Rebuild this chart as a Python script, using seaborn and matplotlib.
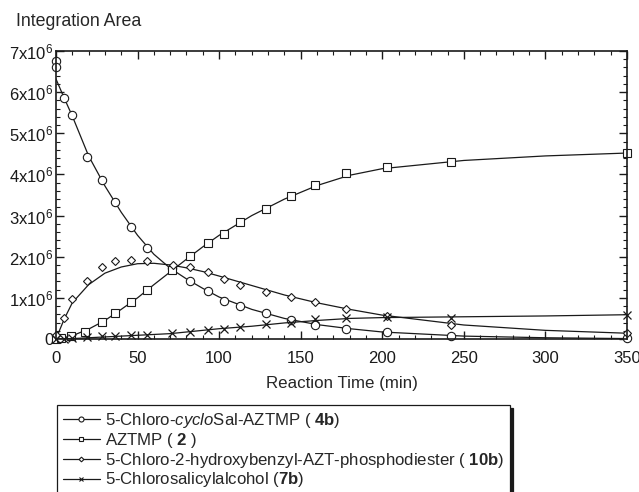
import matplotlib
matplotlib.use('Agg')
import matplotlib.pyplot as plt
from matplotlib.lines import Line2D
from matplotlib.ticker import MultipleLocator, FixedLocator, FixedFormatter
import seaborn as sns
import pandas as pd

# measured points (y in units of 1e6)
circ_t = [0, 0, 5, 10, 19, 28, 36, 46, 56, 71, 82, 93, 103, 113, 129, 144, 159, 178, 203, 242, 350]
circ_y = [6.75, 6.62, 5.87, 5.44, 4.43, 3.87, 3.34, 2.72, 2.20, 1.72, 1.41, 1.17, 0.92, 0.79, 0.63, 0.46, 0.35, 0.25, 0.16, 0.08, 0.02]

sq_t = [0, 3, 9, 18, 28, 36, 46, 56, 71, 82, 93, 103, 113, 129, 144, 159, 178, 203, 242, 350]
sq_y = [0.0, 0.02, 0.08, 0.18, 0.41, 0.63, 0.91, 1.19, 1.67, 2.02, 2.33, 2.54, 2.84, 3.17, 3.47, 3.74, 4.03, 4.18, 4.31, 4.53]

dia_t = [0, 5, 10, 19, 28, 36, 46, 56, 72, 82, 93, 103, 113, 129, 144, 159, 178, 203, 242, 350]
dia_y = [0.1, 0.52, 0.97, 1.41, 1.74, 1.89, 1.93, 1.89, 1.80, 1.75, 1.64, 1.46, 1.31, 1.15, 1.01, 0.89, 0.74, 0.55, 0.34, 0.14]

cross_t = [0, 5, 10, 19, 28, 36, 46, 56, 71, 82, 93, 103, 113, 129, 144, 159, 178, 203, 242, 350]
cross_y = [0.0, 0.01, 0.03, 0.04, 0.07, 0.08, 0.10, 0.10, 0.14, 0.17, 0.23, 0.25, 0.29, 0.36, 0.38, 0.48, 0.52, 0.53, 0.52, 0.59]

# fitted curves
fit_t = [0, 5, 10, 20, 30, 40, 50, 60, 70, 80, 90, 100, 120, 140, 160, 180, 200, 250, 300, 350]
circ_fit = [6.32, 5.86, 5.42, 4.45, 3.72, 3.08, 2.52, 2.06, 1.72, 1.46, 1.23, 1.02, 0.72, 0.50, 0.35, 0.25, 0.17, 0.07, 0.03, 0.01]
sq_fit = [0, 0.03, 0.08, 0.24, 0.45, 0.72, 1.00, 1.32, 1.63, 1.94, 2.24, 2.52, 3.00, 3.40, 3.73, 3.98, 4.14, 4.34, 4.45, 4.52]
dia_fit = [0, 0.48, 0.88, 1.32, 1.60, 1.75, 1.83, 1.84, 1.80, 1.73, 1.64, 1.53, 1.30, 1.07, 0.88, 0.72, 0.58, 0.34, 0.21, 0.14]
cross_fit = [0, 0.005, 0.01, 0.03, 0.05, 0.07, 0.09, 0.11, 0.13, 0.17, 0.21, 0.25, 0.31, 0.39, 0.45, 0.50, 0.52, 0.54, 0.56, 0.59]

y_ticks = [0, 1, 2, 3, 4, 5, 6, 7]
y_labels = ['0', '1x10$^6$', '2x10$^6$', '3x10$^6$', '4x10$^6$', '5x10$^6$', '6x10$^6$', '7x10$^6$']

labels = [
    r'5-Chloro-$\it{cyclo}$Sal-AZTMP ( $\bf{4b}$)',
    r'AZTMP ( $\bf{2}$ )',
    r'5-Chloro-2-hydroxybenzyl-AZT-phosphodiester ( $\bf{10b}$)',
    r'5-Chlorosalicylalcohol ($\bf{7b}$)',
]

sns.set_theme(style='ticks')
plt.rcParams['font.family'] = ['Liberation Sans', 'DejaVu Sans']
plt.rcParams['mathtext.fontset'] = 'custom'
plt.rcParams['mathtext.rm'] = 'Liberation Sans'
plt.rcParams['mathtext.it'] = 'Liberation Sans:italic'
plt.rcParams['mathtext.bf'] = 'Liberation Sans:bold'
plt.rcParams['mathtext.default'] = 'regular'

fig = plt.figure(figsize=(6.39, 4.92), dpi=100)
ax = fig.add_axes([0.0876, 0.311, 0.8936, 0.5853])

series = [
    (circ_t, circ_y, circ_fit, 'o', 6.0),
    (sq_t, sq_y, sq_fit, 's', 5.2),
    (dia_t, dia_y, dia_fit, 'D', 4.0),
    (cross_t, cross_y, cross_fit, 'x', 6.0),
]

handles = []
for (t, y, fit, mk, ms), lab in zip(series, labels):
    sns.lineplot(x=fit_t, y=fit, color='k', linewidth=0.9, ax=ax)
    pts = pd.DataFrame({'t': t, 'y': y})
    if mk == 'x':
        ax.plot(pts['t'], pts['y'], linestyle='none', marker='x', ms=ms, mew=0.9, color='k', clip_on=False)
    else:
        ax.plot(pts['t'], pts['y'], linestyle='none', marker=mk, ms=ms, mew=0.8,
                mfc='white', mec='k', clip_on=False)
    handles.append(Line2D([], [], color='k', lw=0.9, marker=mk, ms=ms * 0.6,
                          mfc='white', mec='k', mew=0.8))

ax.set_xlim(0, 350)
ax.set_ylim(0, 7)
ax.xaxis.set_major_locator(MultipleLocator(50))
ax.xaxis.set_minor_locator(MultipleLocator(10))
ax.yaxis.set_major_locator(FixedLocator(y_ticks))
ax.yaxis.set_major_formatter(FixedFormatter(y_labels))
ax.yaxis.set_minor_locator(MultipleLocator(0.2))
ax.tick_params(which='both', direction='in', top=True, right=True, labelsize=12, colors='k')
ax.tick_params(which='major', length=6, width=1)
ax.tick_params(which='minor', length=3, width=0.8)
ax.tick_params(axis='y', pad=2)
ax.tick_params(axis='x', pad=9)
for s in ax.spines.values():
    s.set_linewidth(1.2)
    s.set_color('k')

ax.set_xlabel('Reaction Time (min)', fontsize=12.2, labelpad=7)
ax.set_ylabel('')
fig.text(16 / 639, 1 - 22 / 492, 'Integration Area', fontsize=12.8, va='center', ha='left')

leg = fig.legend(handles, labels, loc='upper left', bbox_to_anchor=(57 / 639, 1 - 405 / 492),
                 fontsize=12.1, frameon=True, fancybox=False, handlelength=2.2,
                 handletextpad=0.3, labelspacing=0.05, borderpad=0.35, borderaxespad=0,
                 shadow={'color': 'k', 'alpha': 1})
leg.get_frame().set_edgecolor('k')
leg.get_frame().set_linewidth(0.9)

fig.savefig('out.png', dpi=100)
